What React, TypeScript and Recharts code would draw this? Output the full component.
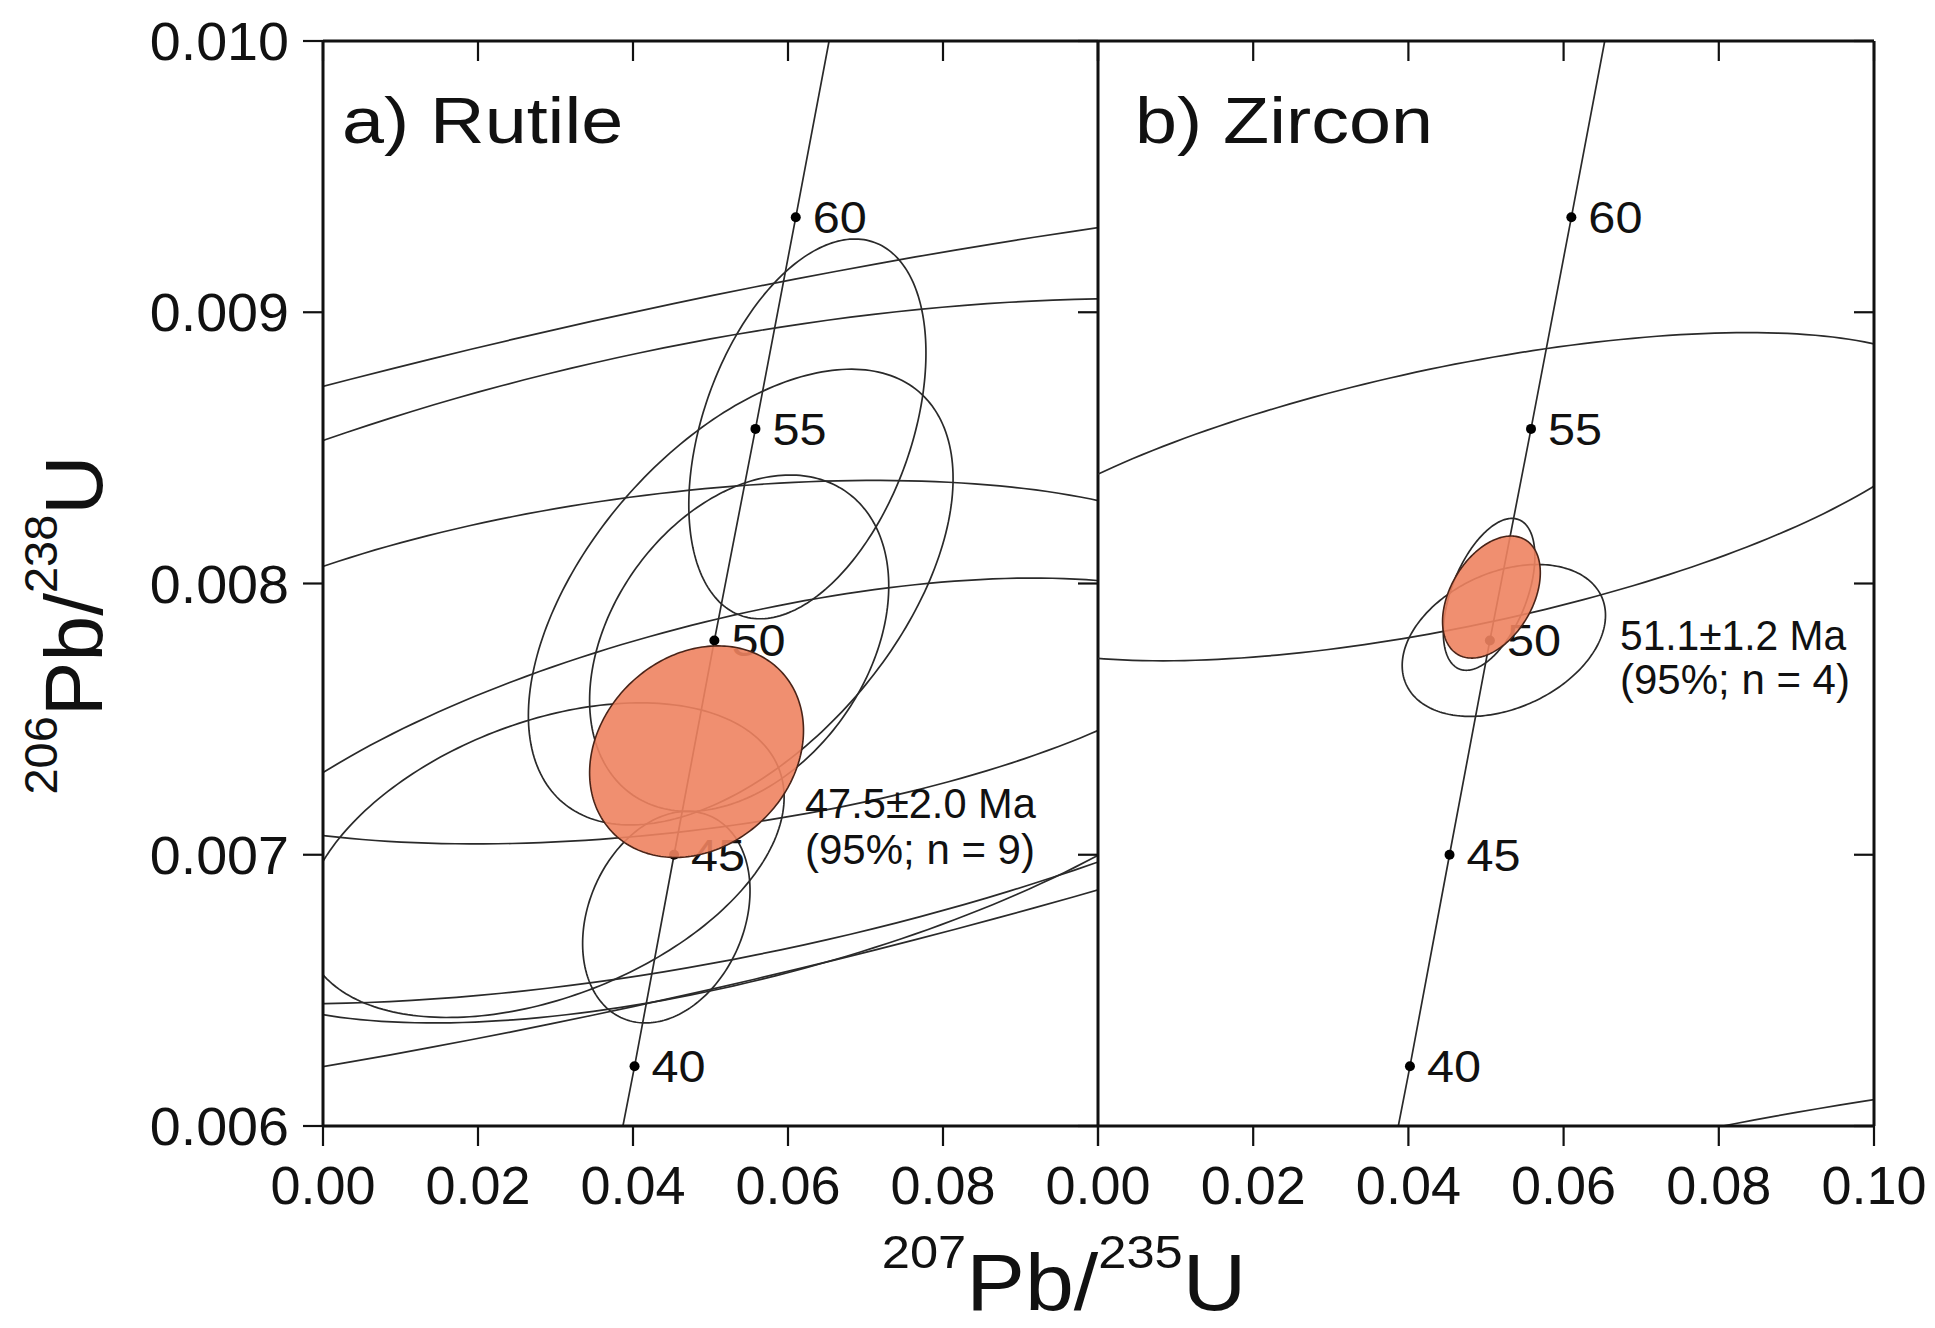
import React from 'react';
import { ComposedChart, Line, Area, Scatter, XAxis, YAxis } from 'recharts';

const FONT = '"Liberation Sans", Arial, Helvetica, sans-serif';
const INK = '#111111';
const LINE = '#2a2a2a';

// ---------- axes ----------
const xTicks = [0, 0.02, 0.04, 0.06, 0.08, 0.1];
const yTicks = [0.006, 0.007, 0.008, 0.009, 0.01];
const xDomain: [number, number] = [0, 0.1];
const yDomain: [number, number] = [0.006, 0.01];

// ---------- concordia ----------
const concordiaPath = [
  { x: 0.0387, y: 0.006 },
  { x: 0.0402, y: 0.00622 },
  { x: 0.0453, y: 0.007 },
  { x: 0.0505, y: 0.00779 },
  { x: 0.0558, y: 0.00857 },
  { x: 0.061, y: 0.00935 },
  { x: 0.0653, y: 0.01 },
];
const ageMarks = [
  { x: 0.0402, y: 0.00622, age: '40' },
  { x: 0.0453, y: 0.007, age: '45' },
  { x: 0.0505, y: 0.00779, age: '50' },
  { x: 0.0558, y: 0.00857, age: '55' },
  { x: 0.061, y: 0.00935, age: '60' },
];

// ---------- error ellipses: [207/235, sigma, 206/238, sigma, rho] ----------
const rutileSpots = [
  [0.04, 0.2, 0.00772, 0.00178, 0.695],
  [0.05, 0.1155, 0.00775, 0.0013, 0.464],
  [0.0454, 0.074, 0.00771, 0.00067, 0.348],
  [0.053, 0.07, 0.0072, 0.00082, 0.553],
  [0.0285, 0.031, 0.00698, 0.00058, 0.4],
  [0.0625, 0.0153, 0.00857, 0.0007, 0.4],
  [0.0539, 0.0274, 0.00795, 0.00084, 0.52],
  [0.0537, 0.0193, 0.00778, 0.00062, 0.34],
  [0.0443, 0.0108, 0.00677, 0.00039, 0.25],
];
const rutileMean = [0.0482, 0.0138, 0.00738, 0.00039, 0.2];

const zirconSpots = [
  [0.046, 0.064, 0.00832, 0.000605, 0.59],
  [0.0523, 0.0131, 0.00779, 0.00028, 0.33],
  [0.0504, 0.0059, 0.00796, 0.00028, 0.5],
  [0.15, 0.12, 0.00575, 0.0006, 0.5],
];
const zirconMean = [0.0507, 0.0063, 0.00795, 0.000225, 0.4];

const rutileAge = ['47.5±2.0 Ma', '(95%; n = 9)'];
const zirconAge = ['51.1±1.2 Ma', '(95%; n = 4)'];

// ---------- ellipse geometry from the parameters ----------
const N = 240;
function ellipseOutline(e: number[]) {
  const [x0, sx, y0, sy, rho] = e;
  const k = Math.sqrt(1 - rho * rho);
  const pts: { x: number; y: number }[] = [];
  for (let i = 0; i <= N; i++) {
    const t = (2 * Math.PI * i) / N;
    pts.push({ x: x0 + sx * Math.cos(t), y: y0 + sy * (rho * Math.cos(t) + k * Math.sin(t)) });
  }
  return pts;
}
function ellipseBand(e: number[]) {
  const [x0, sx, y0, sy, rho] = e;
  const k = Math.sqrt(1 - rho * rho);
  const pts: { x: number; r: [number, number] }[] = [];
  for (let i = 0; i <= N; i++) {
    const t = Math.PI * (1 - i / N);
    const u = Math.cos(t);
    const s = Math.sin(t);
    const mid = y0 + sy * rho * u;
    const half = sy * k * s;
    pts.push({ x: x0 + sx * u, r: [mid - half, mid + half] });
  }
  return pts;
}

// ---------- tick renderers ----------
const EmptyTick = () => <g />;
const XTick = (p: any) => {
  const v = Number(p.payload?.value);
  if (p.hideLast && v > 0.0999) return <g />;
  return (
    <g transform={`translate(${p.x},${p.y})`}>
      <text x={0} y={0} dy={56} textAnchor="middle" fontFamily={FONT} fontSize={54} fill={INK}>
        {v.toFixed(2)}
      </text>
    </g>
  );
};
const YTick = (p: any) => {
  const v = Number(p.payload?.value);
  return (
    <g transform={`translate(${p.x - 12},${p.y}) scale(1.05,1)`}>
      <text x={0} y={0} dy={19} textAnchor="end" fontFamily={FONT} fontSize={53} fill={INK}>
        {v.toFixed(3)}
      </text>
    </g>
  );
};
const AgeDot = (p: any) => {
  const { cx, cy, payload } = p;
  if (cx == null || cy == null) return <g />;
  return (
    <g>
      <circle cx={cx} cy={cy} r={5} fill="#000" />
      <g transform={`translate(${cx + 17},${cy + 16}) scale(1.08,1)`}>
        <text x={0} y={0} fontFamily={FONT} fontSize={45} fill={INK}>
          {payload.age}
        </text>
      </g>
    </g>
  );
};

const axisLineStyle = { stroke: INK, strokeWidth: 3 };
const tickLineStyle = { stroke: INK, strokeWidth: 2.2 };

function MainPanel(props: { spots: number[][]; left: number; width: number; margin: any; first: boolean }) {
  const { spots, left, width, margin, first } = props;
  return (
    <div style={{ position: 'absolute', left, top: 0 }}>
      <ComposedChart width={width} height={1328} margin={margin}>
        <XAxis
          xAxisId="b"
          dataKey="x"
          type="number"
          domain={xDomain}
          ticks={xTicks}
          interval={0}
          allowDataOverflow
          height={60}
          tickSize={20}
          tickMargin={2}
          axisLine={axisLineStyle}
          tickLine={tickLineStyle}
          tick={<XTick hideLast={first} />}
        />
        <XAxis
          xAxisId="t"
          orientation="top"
          mirror
          dataKey="x"
          type="number"
          domain={xDomain}
          ticks={xTicks}
          interval={0}
          allowDataOverflow
          tickSize={20}
          axisLine={axisLineStyle}
          tickLine={tickLineStyle}
          tick={<EmptyTick />}
        />
        <YAxis
          yAxisId="l"
          type="number"
          domain={yDomain}
          ticks={yTicks}
          interval={0}
          allowDataOverflow
          width={180}
          tickSize={20}
          tickMargin={2}
          hide={!first}
          axisLine={axisLineStyle}
          tickLine={tickLineStyle}
          tick={<YTick />}
        />
        <YAxis
          yAxisId="r"
          orientation="right"
          mirror
          type="number"
          domain={yDomain}
          ticks={yTicks}
          interval={0}
          allowDataOverflow
          tickSize={20}
          axisLine={axisLineStyle}
          tickLine={tickLineStyle}
          tick={<EmptyTick />}
        />
        {spots.map((e, i) => (
          <Line
            key={`sp${i}`}
            xAxisId="b"
            yAxisId="l"
            data={ellipseOutline(e)}
            dataKey="y"
            type="linear"
            stroke={LINE}
            strokeWidth={1.7}
            dot={false}
            activeDot={false}
            isAnimationActive={false}
          />
        ))}
        <Line
          xAxisId="b"
          yAxisId="l"
          data={concordiaPath}
          dataKey="y"
          type="linear"
          stroke={LINE}
          strokeWidth={1.7}
          dot={false}
          activeDot={false}
          isAnimationActive={false}
        />
        <Scatter xAxisId="b" yAxisId="l" data={ageMarks} dataKey="y" shape={AgeDot} isAnimationActive={false} />
      </ComposedChart>
    </div>
  );
}

function MeanOverlay(props: { mean: number[]; left: number; width: number; margin: any }) {
  const { mean, left, width, margin } = props;
  return (
    <div style={{ position: 'absolute', left, top: 0 }}>
      <ComposedChart width={width} height={1328} margin={margin}>
        <XAxis dataKey="x" type="number" domain={xDomain} allowDataOverflow hide />
        <YAxis type="number" domain={yDomain} allowDataOverflow hide />
        <Area
          data={ellipseBand(mean)}
          dataKey="r"
          type="linear"
          fill="#EE8361"
          fillOpacity={0.9}
          stroke="none"
          dot={false}
          activeDot={false}
          isAnimationActive={false}
        />
        <Line
          data={ellipseOutline(mean)}
          dataKey="y"
          type="linear"
          stroke="#4a2418"
          strokeWidth={1.6}
          dot={false}
          activeDot={false}
          isAnimationActive={false}
        />
      </ComposedChart>
    </div>
  );
}

const SText = (p: { x: number; y: number; size: number; sx?: number; anchor?: string; children: any }) => (
  <g transform={`translate(${p.x},${p.y}) scale(${p.sx ?? 1},1)`}>
    <text x={0} y={0} fontSize={p.size} fontFamily={FONT} fill={INK} textAnchor={(p.anchor as any) ?? 'start'}>
      {p.children}
    </text>
  </g>
);

export default function App() {
  const marginA = { top: 41, right: 12, bottom: 142, left: 143 };
  const marginB = { top: 41, right: 61, bottom: 142, left: 98 };
  const overA = { top: 41, right: 12, bottom: 202, left: 323 };
  const overB = { top: 41, right: 61, bottom: 202, left: 98 };
  return (
    <div
      style={{
        position: 'absolute',
        left: 0,
        top: 0,
        width: 1935,
        height: 1328,
        background: '#ffffff',
        overflow: 'hidden',
      }}
    >
      <MainPanel spots={rutileSpots} left={0} width={1110} margin={marginA} first />
      <MainPanel spots={zirconSpots} left={1000} width={935} margin={marginB} first={false} />
      <MeanOverlay mean={rutileMean} left={0} width={1110} margin={overA} />
      <MeanOverlay mean={zirconMean} left={1000} width={935} margin={overB} />
      <svg width={1935} height={1328} style={{ position: 'absolute', left: 0, top: 0, pointerEvents: 'none' }}>
        <SText x={342} y={143} size={64} sx={1.18}>a) Rutile</SText>
        <SText x={1135} y={143} size={64} sx={1.18}>b) Zircon</SText>
        <SText x={805} y={818} size={42} sx={0.99}>{rutileAge[0]}</SText>
        <SText x={805} y={864} size={42} sx={1.0}>{rutileAge[1]}</SText>
        <SText x={1620} y={650} size={42} sx={0.97}>{zirconAge[0]}</SText>
        <SText x={1620} y={694} size={42} sx={1.0}>{zirconAge[1]}</SText>
        <g transform="translate(102,625) rotate(-90)">
          <text x={0} y={0} textAnchor="middle" fontFamily={FONT} fill={INK}>
            <tspan fontSize={47} dy={-45}>206</tspan>
            <tspan fontSize={82} dy={45}>Pb/</tspan>
            <tspan fontSize={47} dy={-45}>238</tspan>
            <tspan fontSize={82} dy={45}>U</tspan>
          </text>
        </g>
        <g transform="translate(1064,1310) scale(1.1,1)">
          <text x={0} y={0} textAnchor="middle" fontFamily={FONT} fill={INK}>
            <tspan fontSize={46} dy={-42}>207</tspan>
            <tspan fontSize={80} dy={42}>Pb/</tspan>
            <tspan fontSize={46} dy={-42}>235</tspan>
            <tspan fontSize={80} dy={42}>U</tspan>
          </text>
        </g>
      </svg>
    </div>
  );
}
